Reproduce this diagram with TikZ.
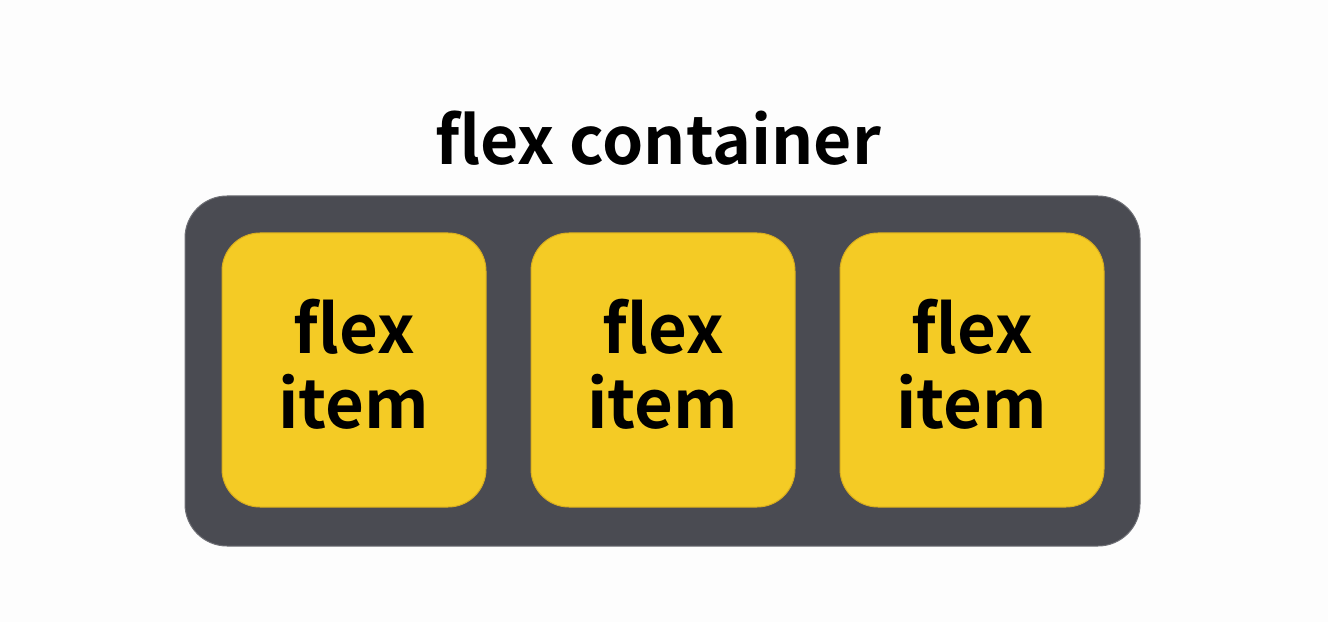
\documentclass[tikz,border=0pt]{standalone}
\usepackage{fontspec}
\setmainfont{Noto Sans CJK KR}[BoldFont={* Bold}]
\definecolor{contgray}{HTML}{4A4B52}
\definecolor{itemyellow}{HTML}{F4CB25}
\definecolor{itemedge}{HTML}{D9AE1E}
\definecolor{bgwhite}{HTML}{FDFDFD}
\begin{document}
\begin{tikzpicture}[x=1pt,y=1pt,
  container/.style={fill=contgray, draw=contgray!80!white, line width=1pt, rounded corners=42pt},
  itembox/.style={fill=itemyellow, draw=itemedge, line width=1pt, rounded corners=38pt},
  itemtext/.style={font=\fontsize{67}{75}\selectfont\bfseries, align=center, text=black, inner sep=0pt},
  titletext/.style={font=\fontsize{66}{70}\selectfont\bfseries, text=black, inner sep=0pt, anchor=base}]
\fill[bgwhite] (0,0) rectangle (1328,622);
\useasboundingbox (0,0) rectangle (1328,622);
\node[titletext] (title) at (658,457) {flex container};
\draw[container] (185,76) rectangle (1140,426);
\foreach \i/\x in {1/222,2/531,3/840}{
  \draw[itembox] (\x,115) rectangle (\x+264,389);
  \node[itemtext] (item\i) at (\x+132,258) {flex\\item};
}
\end{tikzpicture}
\end{document}
